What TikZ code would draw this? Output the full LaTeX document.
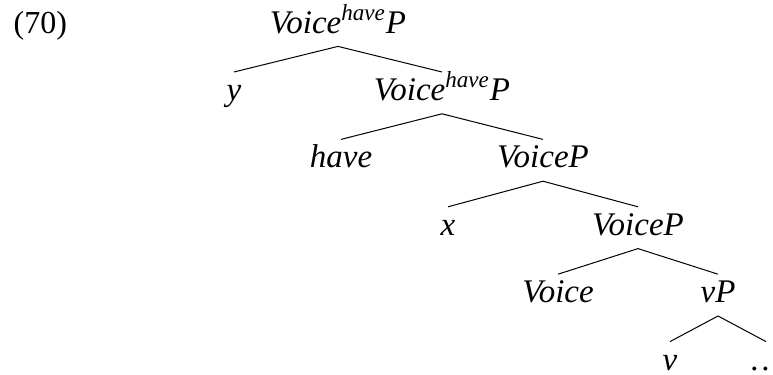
\documentclass[tikz,border=0pt]{standalone}
\usepackage{fontspec}
\setmainfont{Liberation Serif}

\begin{document}
\begin{tikzpicture}[x=1pt, y=1pt,
    every node/.style={font=\fontsize{16.5}{19}\selectfont\itshape,
      text height=11.4pt, text depth=3.9pt, inner sep=2.6pt},
    level distance=33.7pt,
    edge from parent/.style={draw, line width=0.5pt},
    edge from parent path={(\tikzparentnode.south) -- (\tikzchildnode.north)},
    level 1/.style={sibling distance=104pt},
    level 2/.style={sibling distance=101pt},
    level 3/.style={sibling distance=95pt},
    level 4/.style={sibling distance=80pt},
    level 5/.style={sibling distance=48pt}]
  \useasboundingbox (0,0) rectangle (386.5,-187.5);
  \node[font=\fontsize{16}{19}\selectfont, anchor=base west] (ex) at (4,-16.5) {(70)};
  \node (vhp) at (169,-12.75) {Voice\textsuperscript{have}P}
    child {node (y) {y}}
    child {node (vhp2) {Voice\textsuperscript{have}P}
      child {node (have) {have}}
      child {node (vp) {VoiceP}
        child {node (x) {x}}
        child {node (vp2) {VoiceP}
          child {node (voice) {Voice}}
          child {node (smallvp) {vP}
            child {node (v) {v}}
            child {node (dots) {\ldots}}
          }
        }
      }
    };
\end{tikzpicture}
\end{document}
